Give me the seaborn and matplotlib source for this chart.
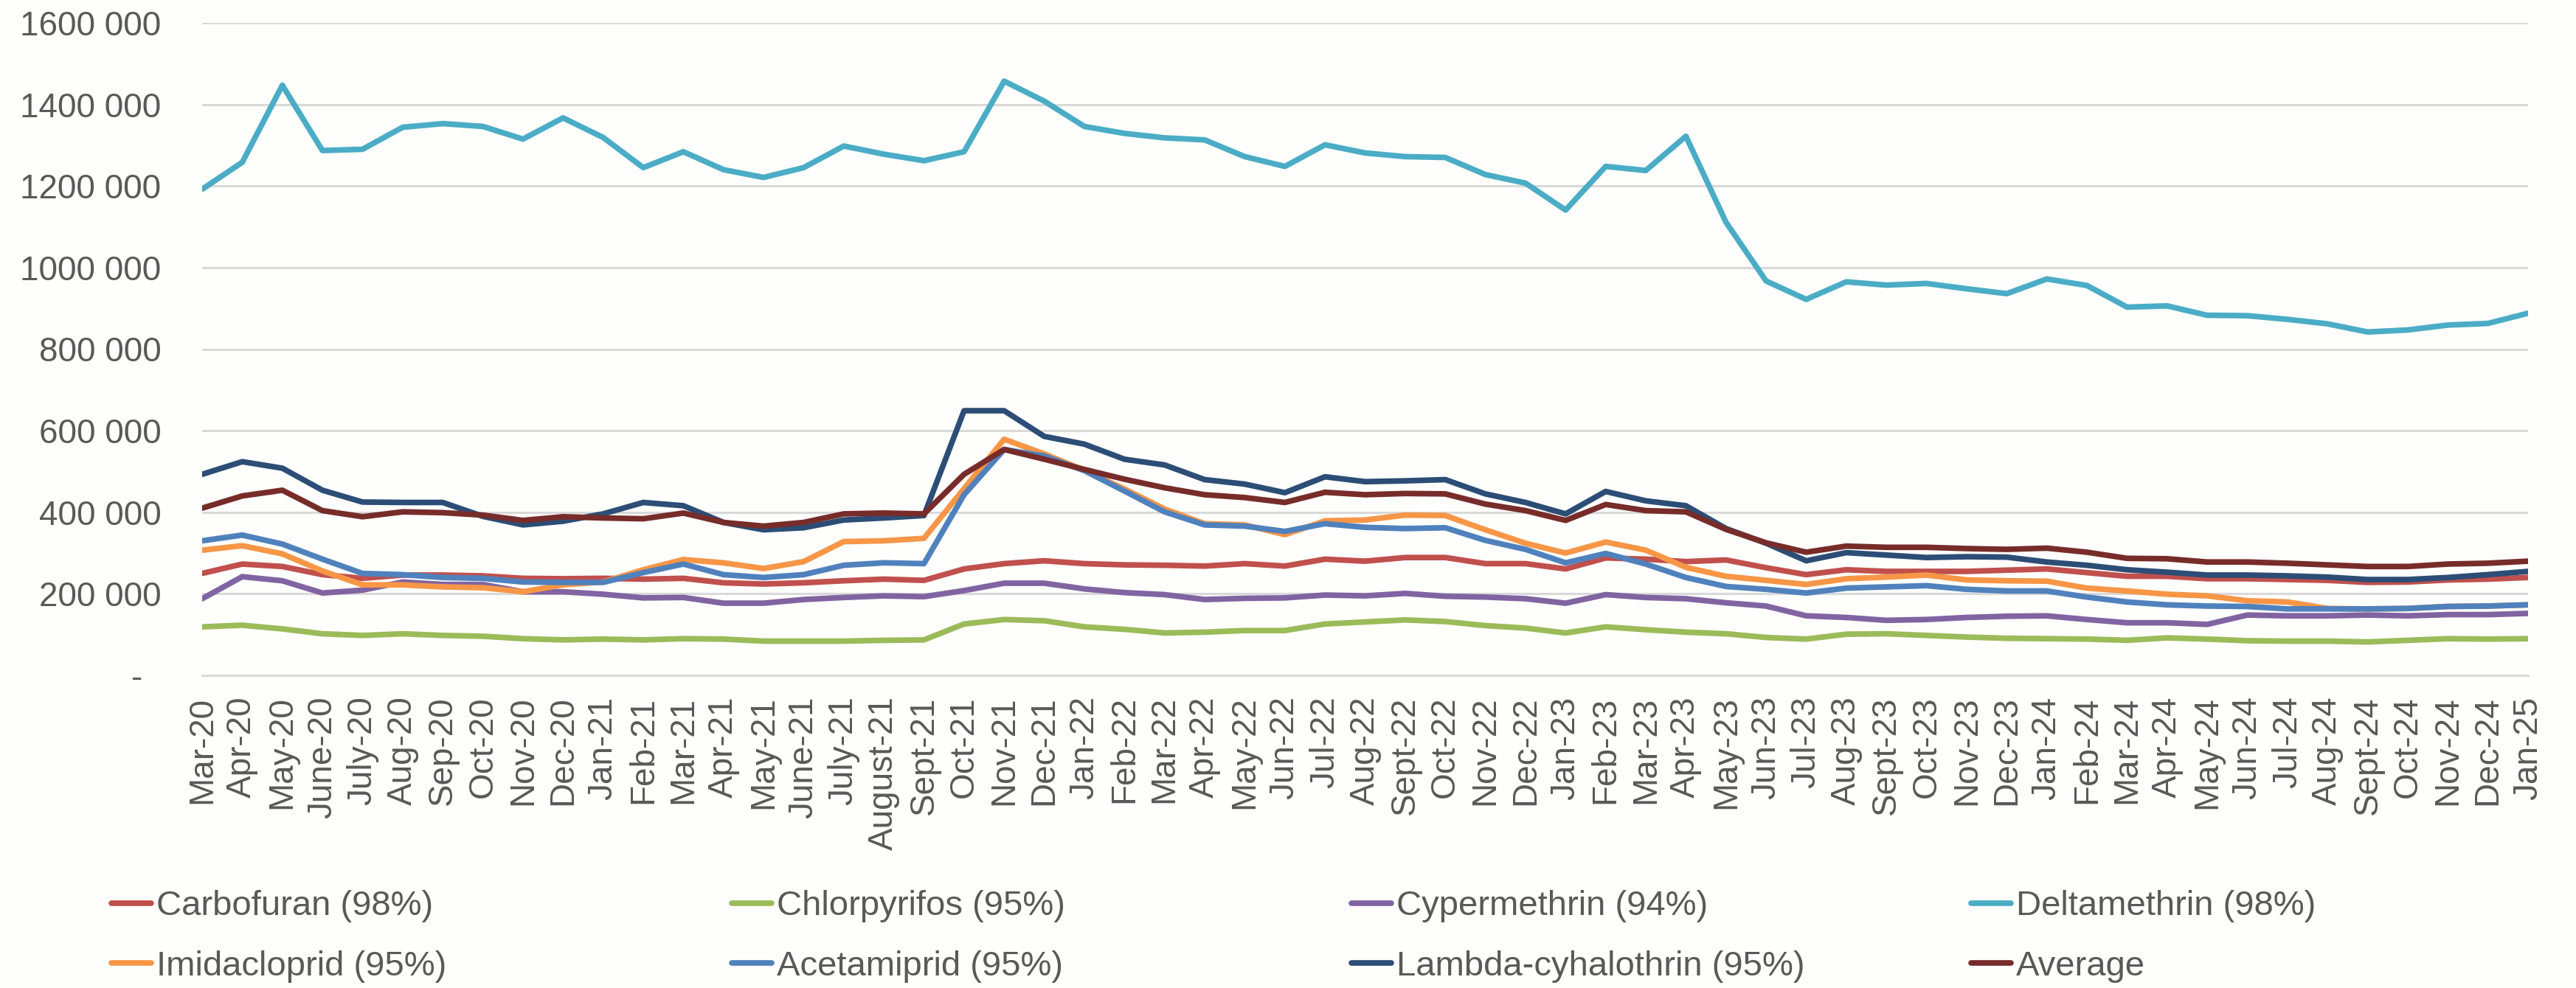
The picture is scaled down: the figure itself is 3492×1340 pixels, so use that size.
import numpy as np
import pandas as pd
import matplotlib
matplotlib.use("Agg")
import matplotlib.pyplot as plt
from matplotlib.lines import Line2D
from matplotlib.ticker import FuncFormatter, MultipleLocator
import seaborn as sns

months = ["Mar-20", "Apr-20", "May-20", "June-20", "July-20", "Aug-20", "Sep-20", "Oct-20",
          "Nov-20", "Dec-20", "Jan-21", "Feb-21", "Mar-21", "Apr-21", "May-21", "June-21",
          "July-21", "August-21", "Sept-21", "Oct-21", "Nov-21", "Dec-21", "Jan-22", "Feb-22",
          "Mar-22", "Apr-22", "May-22", "Jun-22", "Jul-22", "Aug-22", "Sept-22", "Oct-22",
          "Nov-22", "Dec-22", "Jan-23", "Feb-23", "Mar-23", "Apr-23", "May-23", "Jun-23",
          "Jul-23", "Aug-23", "Sept-23", "Oct-23", "Nov-23", "Dec-23", "Jan-24", "Feb-24",
          "Mar-24", "Apr-24", "May-24", "Jun-24", "Jul-24", "Aug-24", "Sept-24", "Oct-24",
          "Nov-24", "Dec-24", "Jan-25"]

carbofuran = [250000, 273000, 267000, 247000, 238000, 246000, 246000, 244000, 238000, 237000,
              238000, 236000, 238000, 227000, 224000, 227000, 232000, 236000, 233000, 261000,
              274000, 281000, 274000, 271000, 270000, 268000, 274000, 268000, 285000, 280000,
              289000, 289000, 274000, 274000, 261000, 288000, 285000, 279000, 283000, 264000,
              247000, 259000, 255000, 255000, 255000, 258000, 261000, 252000, 243000, 243000,
              237000, 237000, 235000, 233000, 228000, 229000, 234000, 236000, 240000]
chlorpyrifos = [119000, 123000, 114000, 102000, 98000, 102000, 98000, 96000, 90000, 87000,
                89000, 87000, 90000, 89000, 84000, 84000, 84000, 86000, 87000, 126000,
                137000, 134000, 119000, 113000, 104000, 106000, 110000, 110000, 126000, 131000,
                136000, 132000, 122000, 116000, 104000, 119000, 112000, 106000, 102000, 93000,
                89000, 101000, 102000, 98000, 94000, 91000, 90000, 89000, 86000, 92000,
                89000, 85000, 84000, 84000, 82000, 86000, 90000, 89000, 90000]
cypermethrin = [188000, 242000, 232000, 202000, 209000, 229000, 223000, 223000, 205000, 205000,
                199000, 190000, 191000, 177000, 177000, 186000, 191000, 195000, 193000, 208000,
                226000, 226000, 212000, 203000, 198000, 186000, 189000, 190000, 197000, 195000,
                201000, 194000, 192000, 188000, 177000, 198000, 191000, 188000, 178000, 170000,
                146000, 142000, 135000, 137000, 142000, 145000, 146000, 137000, 129000, 129000,
                125000, 148000, 146000, 146000, 148000, 146000, 149000, 149000, 152000]
deltamethrin = [1192000, 1258000, 1447000, 1287000, 1290000, 1344000, 1353000, 1346000, 1315000,
                1367000, 1319000, 1245000, 1284000, 1240000, 1221000, 1245000, 1298000, 1278000,
                1262000, 1284000, 1457000, 1408000, 1346000, 1329000, 1318000, 1313000, 1272000,
                1248000, 1301000, 1281000, 1272000, 1270000, 1228000, 1207000, 1141000, 1248000,
                1238000, 1322000, 1111000, 967000, 922000, 965000, 957000, 961000, 948000,
                936000, 972000, 956000, 903000, 906000, 883000, 882000, 873000, 862000,
                842000, 847000, 859000, 863000, 888000]
imidacloprid = [307000, 318000, 298000, 256000, 222000, 222000, 217000, 215000, 205000, 222000,
                229000, 259000, 284000, 276000, 262000, 279000, 328000, 330000, 336000, 458000,
                579000, 543000, 503000, 457000, 408000, 372000, 369000, 345000, 379000, 381000,
                393000, 392000, 357000, 324000, 300000, 327000, 307000, 265000, 243000, 233000,
                223000, 237000, 241000, 246000, 234000, 232000, 231000, 214000, 207000, 199000,
                195000, 183000, 180000, 164000, 163000, 164000, 169000, 170000, 173000]
acetamiprid = [330000, 344000, 322000, 285000, 250000, 247000, 240000, 238000, 229000, 228000,
               228000, 252000, 273000, 247000, 240000, 247000, 270000, 276000, 274000, 443000,
               554000, 538000, 502000, 452000, 401000, 369000, 366000, 353000, 372000, 363000,
               360000, 362000, 331000, 309000, 276000, 299000, 273000, 240000, 218000, 211000,
               202000, 214000, 217000, 220000, 211000, 207000, 207000, 192000, 180000, 173000,
               170000, 169000, 163000, 163000, 163000, 164000, 169000, 170000, 173000]
lambda_cyhalothrin = [493000, 524000, 508000, 454000, 425000, 424000, 424000, 390000, 369000,
                      378000, 396000, 424000, 416000, 375000, 357000, 362000, 381000, 386000,
                      392000, 649000, 649000, 586000, 567000, 530000, 516000, 480000, 469000,
                      448000, 487000, 475000, 477000, 480000, 445000, 424000, 396000, 451000,
                      428000, 416000, 360000, 324000, 281000, 301000, 295000, 289000, 291000,
                      290000, 278000, 270000, 259000, 253000, 246000, 246000, 244000, 241000,
                      235000, 235000, 240000, 247000, 255000]
average = [410000, 440000, 454000, 404000, 389000, 401000, 399000, 393000, 380000, 389000,
           386000, 384000, 398000, 375000, 366000, 375000, 396000, 398000, 396000, 493000,
           554000, 530000, 505000, 481000, 460000, 443000, 436000, 424000, 449000, 443000,
           446000, 445000, 420000, 404000, 380000, 419000, 404000, 401000, 358000, 325000,
           302000, 317000, 314000, 314000, 311000, 309000, 312000, 302000, 287000, 286000,
           278000, 278000, 275000, 271000, 267000, 267000, 273000, 275000, 280000]

series_names = ["Carbofuran (98%)", "Chlorpyrifos (95%)", "Cypermethrin (94%)",
                "Deltamethrin (98%)", "Imidacloprid (95%)", "Acetamiprid (95%)",
                "Lambda-cyhalothrin (95%)", "Average"]
series_values = [carbofuran, chlorpyrifos, cypermethrin, deltamethrin,
                 imidacloprid, acetamiprid, lambda_cyhalothrin, average]
series_colors = ["#C0504D", "#9BBB59", "#8064A2", "#4BACC6",
                 "#F79646", "#4F81BD", "#2C4D75", "#772C2A"]

# long-form table
rows = []
for name, vals in zip(series_names, series_values):
    for i, (m, v) in enumerate(zip(months, vals)):
        rows.append({"pos": i, "month": m, "value": v, "series": name})
df = pd.DataFrame(rows)

sns.set_theme(style="white")
plt.rcParams["font.family"] = ["Liberation Sans", "DejaVu Sans"]

W, H = 3492, 1340
bg = "#FEFEFC"
fig = plt.figure(figsize=(W / 100, H / 100), dpi=100, facecolor=bg)
left, right, top, bottom = 274, 3427, 31, 916
ax = fig.add_axes([left / W, 1 - bottom / H, (right - left) / W, (bottom - top) / H])
ax.set_facecolor(bg)

palette = dict(zip(series_names, series_colors))
sns.lineplot(data=df, x="pos", y="value", hue="series", hue_order=series_names,
             palette=palette, linewidth=5.5, ax=ax, legend=False, sort=True,
             estimator=None)

ax.set_xlim(0, len(months) - 1)
ax.set_ylim(0, 1600000)
ax.yaxis.set_major_locator(MultipleLocator(200000))


def yfmt(v, p):
    if abs(v) < 1:
        return "-  "
    return f"{int(round(v / 1000))} 000"


ax.yaxis.set_major_formatter(FuncFormatter(yfmt))
ax.set_xticks(range(len(months)))
ax.set_xticklabels(months, rotation=90)
ax.set_xlabel("")
ax.set_ylabel("")

grid_c = "#D9D9D9"
ax.yaxis.grid(True, color=grid_c, linewidth=2.2)
ax.xaxis.grid(False)
ax.set_axisbelow(True)
for s in ["left", "right", "top"]:
    ax.spines[s].set_visible(False)
ax.spines["bottom"].set_color(grid_c)
ax.spines["bottom"].set_linewidth(2.2)
ax.spines["bottom"].set_zorder(0.5)

ax.tick_params(axis="x", direction="out", length=9.5, width=1.5, color=grid_c,
               labelsize=33, labelcolor="#595959", pad=11)
ax.tick_params(axis="y", length=0, labelsize=33, labelcolor="#595959", pad=40)

# legend: 4 columns x 2 rows, equal column spacing (Excel style)
col_x = [151, 992, 1832, 2672]
for c in range(4):
    idxs = [c, c + 4]
    handles = [Line2D([0], [0], color=series_colors[k], lw=5.5, solid_capstyle="round")
               for k in idxs]
    labels = [series_names[k] for k in idxs]
    fig.legend(handles, labels, loc="center left",
               bbox_to_anchor=(col_x[c] / W, 1 - 1270 / H),
               frameon=False, fontsize=34, labelcolor="#595959",
               handlelength=1.15, handletextpad=0.15, labelspacing=0.8,
               borderpad=0, borderaxespad=0)

fig.savefig("out.png", dpi=100, facecolor=bg)
